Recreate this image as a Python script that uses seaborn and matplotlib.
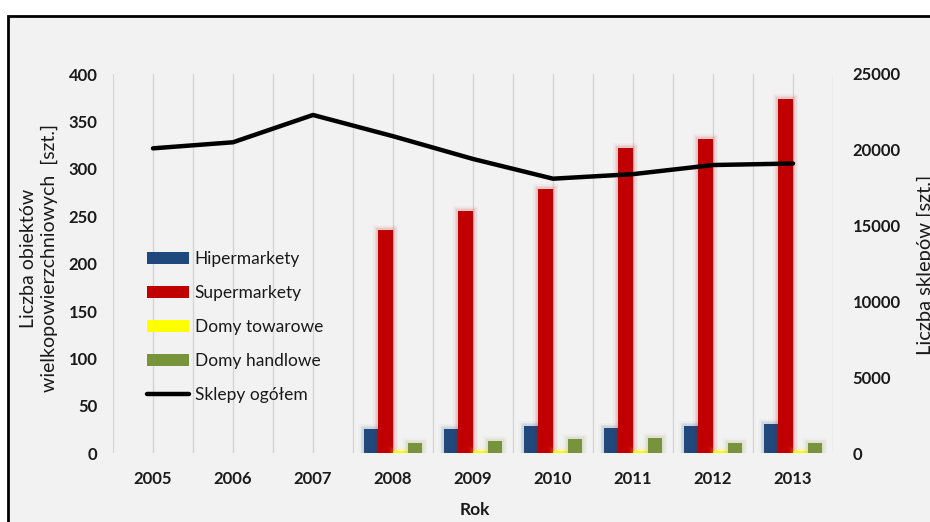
import numpy as np
import pandas as pd
import matplotlib
matplotlib.use("Agg")
import matplotlib.pyplot as plt
import matplotlib.patheffects as pe
from matplotlib.patches import Patch, Rectangle
from matplotlib.lines import Line2D
import seaborn as sns

# ---- data ----
years = ["2005", "2006", "2007", "2008", "2009", "2010", "2011", "2012", "2013"]
hipermarkety = [np.nan, np.nan, np.nan, 26, 26, 29, 27, 29, 31]
supermarkety = [np.nan, np.nan, np.nan, 236, 255, 279, 322, 331, 374]
domy_towarowe = [np.nan, np.nan, np.nan, 2, 2, 2, 2, 2, 2]
domy_handlowe = [np.nan, np.nan, np.nan, 11, 13, 15, 16, 11, 11]
sklepy_ogolem = [20100, 20500, 22300, 20900, 19400, 18100, 18400, 19000, 19100]

series_names = ["Hipermarkety", "Supermarkety", "Domy towarowe", "Domy handlowe"]
line_name = "Sklepy ogółem"
left_ticks = [0, 50, 100, 150, 200, 250, 300, 350, 400]
right_ticks = [0, 5000, 10000, 15000, 20000, 25000]

colors = ["#1F497D", "#C00000", "#FFFF00", "#77933C"]
bg = "#F2F2F2"
txt = "#1A1A1A"

sns.set_theme(style="white")
plt.rcParams["font.family"] = ["Lato", "DejaVu Sans"]

rows = []
for name, vals in zip(series_names, [hipermarkety, supermarkety, domy_towarowe, domy_handlowe]):
    for y, v in zip(years, vals):
        if not np.isnan(v):
            rows.append({"Rok": y, "value": v, "series": name})
df = pd.DataFrame(rows)

fig = plt.figure(figsize=(9.30, 5.22), dpi=100)
fig.patch.set_facecolor("white")
fig.patches.append(Rectangle((8 / 930, -0.1), 1.2, 1 - 16 / 522 + 0.1,
                             transform=fig.transFigure, facecolor=bg,
                             edgecolor="black", lw=2, zorder=-10))

ax = fig.add_axes([113 / 930, (522 - 453.3) / 522, 720 / 930, 379.3 / 522])
ax.set_facecolor(bg)

sns.barplot(data=df, x="Rok", y="value", hue="series", order=years,
            hue_order=series_names, palette=colors, width=0.73, gap=0,
            saturation=1, errorbar=None, legend=False, ax=ax, zorder=3)

for bar in ax.patches:
    fc = bar.get_facecolor()
    bar.set_edgecolor("none")
    bar.set_path_effects([
        pe.Stroke(linewidth=7, foreground=fc, alpha=0.04),
        pe.Stroke(linewidth=5, foreground=fc, alpha=0.06),
        pe.Stroke(linewidth=3, foreground=fc, alpha=0.08),
        pe.Normal(),
    ])

ax.set_xlim(-0.5, len(years) - 0.5)
ax.set_ylim(left_ticks[0], left_ticks[-1])
ax.set_yticks(left_ticks)
ax.set_xticks(range(len(years)))
ax.set_xticks(np.arange(-0.5, len(years), 1.0), minor=True)
ax.set_xticklabels(years)
ax.grid(False)
ax.grid(True, which="both", axis="x", color="#D4D4D4", lw=1)
ax.set_axisbelow(True)
for s in ax.spines.values():
    s.set_visible(False)
ax.tick_params(axis="x", which="both", length=0, pad=13)
ax.tick_params(axis="y", length=0, pad=11)
for lab in ax.get_xticklabels() + ax.get_yticklabels():
    lab.set_fontweight("bold")
    lab.set_fontsize(12)
    lab.set_color(txt)
ax.set_xlabel("")
ax.set_ylabel("")

ax2 = ax.twinx()
sns.lineplot(x=np.arange(len(years)), y=sklepy_ogolem, color="black", lw=3.2,
             ax=ax2, legend=False)
ax2.set_ylim(right_ticks[0], right_ticks[-1])
ax2.set_yticks(right_ticks)
ax2.set_xlim(-0.5, len(years) - 0.5)
for s in ax2.spines.values():
    s.set_visible(False)
ax2.tick_params(axis="y", length=0, pad=14)
ax2.grid(False)
for lab in ax2.get_yticklabels():
    lab.set_fontweight("bold")
    lab.set_fontsize(12)
    lab.set_color(txt)

fig.text(475 / 930, 1 - 510 / 522, "Rok", ha="center", va="center",
         fontsize=12.5, fontweight="bold", color=txt)
fig.text(39 / 930, 1 - 258 / 522, "Liczba obiektów\nwielkopowierzchniowych  [szt.]",
         rotation=90, ha="center", va="center", multialignment="center",
         fontsize=14, color=txt, linespacing=1.2)
fig.text(917 / 930, 1 - 265 / 522, "Liczba sklepów [szt.]", rotation=90,
         ha="left", va="center", fontsize=14.5, color=txt)

handles = [Patch(facecolor=c, edgecolor="none") for c in colors]
handles.append(Line2D([0], [0], color="black", lw=3.2))
leg = ax2.legend(handles, series_names + [line_name], loc="upper left",
                 bbox_to_anchor=((147 - 113) / 720, (453.3 - 251) / 379.3),
                 frameon=False, fontsize=12.5, handlelength=2.4, handleheight=0.62,
                 handletextpad=0.35, labelspacing=1.04, borderpad=0, borderaxespad=0)
for t in leg.get_texts():
    t.set_color(txt)

fig.savefig("out.png", dpi=100, facecolor="white")
